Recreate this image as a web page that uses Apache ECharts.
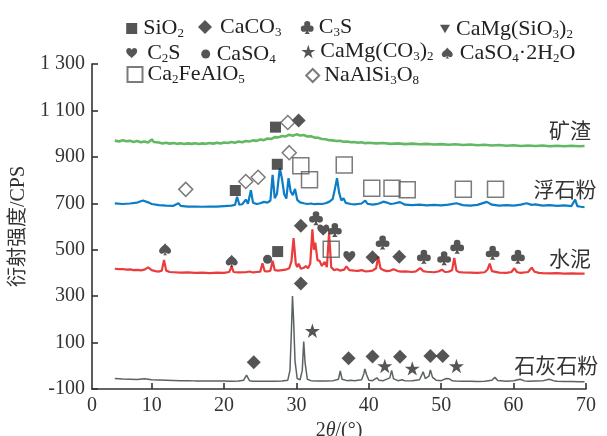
<!DOCTYPE html>
<html><head><meta charset="utf-8">
<script src="https://cdn.jsdelivr.net/npm/echarts@6/dist/echarts.min.js"></script>
<style>html,body{margin:0;padding:0;background:#fff}#c{width:607px;height:436px}</style>
</head><body><div id="c"></div>
<script>
// ---- data (2θ in degrees, intensity in CPS) ----
const traceNames = ['矿渣', '浮石粉', '水泥', '石灰石粉'];
const slagXRD = [[4.9,970],[5.5,966],[6,972],[6.5,967],[7,969],[7.5,964],[8,968],[8.5,963],[9,966],[9.5,962],[10,975],[10.3,964],[11,962],[11.5,958],[12,961],[12.5,957],[13,960],[13.5,956],[14,959],[14.5,955],[15,958],[15.5,956],[16,959],[16.5,955],[17,958],[17.5,956],[18,960],[18.5,957],[19,961],[19.5,958],[20,962],[20.5,960],[21,964],[21.5,961],[22,966],[22.5,963],[23,968],[23.5,966],[24,971],[24.5,969],[25,975],[25.5,972],[26,979],[26.5,977],[27,985],[27.5,984],[28,990],[28.5,988],[29,995],[29.5,991],[30,997],[30.5,992],[31,994],[31.5,988],[32,989],[32.5,983],[33,982],[33.5,977],[34,976],[34.5,972],[35,971],[35.5,968],[36,969],[36.5,965],[37,966],[37.5,963],[38,964],[38.5,961],[39,963],[39.5,959],[40,961],[41,958],[42,960],[43,956],[44,958],[45,955],[46,957],[47,954],[48,956],[49,953],[50,955],[51,952],[52,954],[53,951],[54,953],[55,950],[56,952],[57,949],[58,951],[59,948],[60,950],[61,947],[62,949],[63,947],[64,949],[65,946],[66,948],[67,946],[68,948],[69,946],[69.8,947]];
const pumiceXRD = [[4.9,700],[6,697],[7,699],[8,703],[8.8,712],[9.5,704],[10,697],[11,692],[12,690],[13,689],[13.7,700],[14,689],[15,686],[16,686],[17,685],[18,686],[19,686],[20,688],[21,690],[21.5,693],[21.8,728],[22.1,694],[22.5,696],[23.0,716],[23.3,698],[23.7,756],[24.0,702],[24.5,697],[25,700],[25.5,706],[26,703],[26.4,712],[26.7,822],[27.0,722],[27.3,740],[27.7,852],[28.0,805],[28.3,740],[28.6,720],[28.9,808],[29.2,750],[29.5,735],[29.8,762],[30.1,715],[30.5,704],[31,700],[31.5,697],[32,699],[32.5,696],[33,698],[33.5,697],[34,700],[34.5,706],[35,718],[35.3,760],[35.6,808],[35.9,745],[36.2,712],[36.5,722],[36.8,702],[37.5,697],[38,695],[38.5,697],[39,699],[39.5,712],[39.8,698],[40.5,694],[41,696],[41.5,700],[42,707],[42.5,703],[43,697],[43.5,699],[44.3,705],[45,694],[46,692],[47,694],[48,691],[49,693],[50,691],[51,694],[52.1,700],[53,692],[54,690],[55,693],[56.3,706],[57,694],[58,690],[59,692],[60,690],[61,694],[61.8,700],[62.5,693],[63,695],[64,690],[65,692],[66,689],[67,691],[68,688],[68.5,716],[68.8,688],[69.3,685],[69.8,683]];
const cementXRD = [[4.9,418],[5.5,416],[6,417],[6.5,414],[7,415],[7.5,412],[8,413],[8.5,411],[9,414],[9.5,424],[10,412],[10.5,408],[11,406],[11.4,410],[11.7,456],[12.0,410],[12.5,404],[13,403],[14,401],[15,402],[16,400],[17,401],[18,399],[19,401],[20,400],[20.7,404],[21.05,428],[21.3,404],[22,402],[23,403],[23.5,406],[24,402],[24.5,404],[25.0,406],[25.3,442],[25.6,408],[26,406],[26.4,410],[26.7,452],[27.0,412],[27.5,410],[28,412],[28.5,414],[29.0,420],[29.3,450],[29.6,550],[29.9,440],[30.1,425],[30.3,440],[30.6,418],[31,422],[31.3,430],[31.6,420],[31.9,440],[32.2,588],[32.4,500],[32.6,530],[32.9,455],[33.2,452],[33.5,430],[33.9,447],[34.2,425],[34.5,572],[34.8,425],[35.2,412],[35.6,416],[36,410],[36.6,414],[36.9,428],[37.3,412],[38,410],[38.5,409],[39,412],[39.5,407],[40,408],[40.5,410],[41.0,420],[41.3,470],[41.6,420],[42,412],[42.5,408],[43,410],[43.4,416],[44,408],[44.5,406],[45,407],[46,404],[46.5,407],[47.1,421],[47.5,408],[48,405],[49,403],[49.6,406],[50.1,414],[50.5,404],[51,405],[51.5,412],[51.8,465],[52.1,410],[52.5,403],[53,402],[54,401],[55,400],[56,403],[56.4,415],[56.7,440],[57.0,408],[58,401],[59,400],[59.7,404],[60.1,420],[60.5,403],[61,400],[62,404],[62.5,423],[62.9,405],[63.5,400],[64,399],[65,398],[66,399],[67,397],[68,398],[69,397],[69.8,397]];
const limestoneXRD = [[4.9,-55],[6,-57],[7,-58],[8,-59],[9,-56],[10,-60],[11,-61],[12,-62],[13,-63],[14,-64],[15,-64],[16,-65],[17,-65],[18,-66],[19,-66],[20,-66],[21,-67],[22,-66],[22.7,-62],[23.1,-40],[23.5,-64],[24,-67],[25,-67],[26,-67],[27,-67],[28,-66],[28.8,-62],[29.1,-20],[29.3,150],[29.45,300],[29.6,200],[29.8,20],[30.1,-55],[30.5,-60],[30.8,-20],[31.0,104],[31.2,10],[31.5,-58],[32,-64],[33,-66],[34,-66],[35,-65],[35.8,-58],[36.05,-22],[36.3,-58],[37,-64],[37.5,-62],[38,-64],[39,-60],[39.3,-35],[39.45,-14],[39.7,-40],[40,-62],[40.5,-64],[41.1,-52],[41.4,-62],[42,-64],[42.9,-52],[43.15,-20],[43.4,-55],[44,-64],[44.6,-60],[45,-65],[46,-64],[47,-60],[47.3,-40],[47.5,-26],[47.8,-55],[48.3,-45],[48.5,-18],[48.8,-50],[49.3,-62],[50,-64],[50.7,-55],[51.1,-56],[51.5,-64],[52,-66],[53,-67],[54,-67],[55,-68],[56,-67],[57,-62],[57.4,-50],[57.8,-63],[59,-67],[60,-64],[60.9,-58],[61.5,-65],[62,-67],[63,-66],[64,-65],[64.9,-58],[65.5,-64],[66,-67],[67,-68],[68,-68],[69,-69],[69.8,-69]];

// phase markers [2θ, y]
const mineralNames = ['SiO2','CaCO3','C3S','CaMg(SiO3)2','C2S','CaSO4','CaMg(CO3)2','CaSO4·2H2O','Ca2FeAlO5','NaAlSi3O8'];
const sio2Marks = [[27.1,1028],[21.55,755],[27.35,868],[27.4,492]];
const caco3Marks = [[30.3,1057],[30.6,603],[40.5,468],[44.2,470],[30.6,355],[24.1,15],[37.2,32],[40.5,40],[44.3,39],[48.5,42],[50.2,42]];
const c3sMarks = [[32.7,636],[35.3,585],[41.9,531],[47.6,470],[50.4,463],[52.2,513],[57.1,487],[60.6,470]];
const diopsideMarks = [];
const c2sMarks = [[33.7,585],[37.3,470]];
const caso4Marks = [[26.0,459]];
const dolomiteMarks = [[32.2,151],[42.2,-1],[46.0,-11],[52.1,-1]];
const gypsumMarks = [[11.85,502],[21.05,452]];
const c4afMarks = [[34.8,502],[30.6,862],[31.8,801],[36.6,865],[40.4,765],[43.2,765],[45.3,758],[53.05,760],[57.5,760]];
const albiteMarks = [[28.8,1048],[14.7,760],[23.0,794],[24.7,812],[29.0,918]];

const yTicks = [-100,100,300,500,700,900,1100,1300];
const xTicks = [10,20,30,40,50,60,70];

// ---- styles ----
const INK = '#2a2a2a', HOLLOW = '#5a5a5a';
const SERIF = "'Liberation Serif', 'DejaVu Serif', serif";
const SERIF_CJK = "'Liberation Serif', 'Noto Sans CJK SC', serif";
function circ(cx, cy, r){ return 'M'+(cx-r)+','+cy+' A'+r+','+r+' 0 1,1 '+(cx+r)+','+cy+' A'+r+','+r+' 0 1,1 '+(cx-r)+','+cy+' Z '; }
const SYM = {
  star: 'path://M50,2 L61.8,38.2 L99.5,38.2 L69,60.5 L80.6,96.6 L50,74.3 L19.4,96.6 L31,60.5 L0.5,38.2 L38.2,38.2 Z',
  heart: 'path://M50,95 C40,82 0,58 0,30 C0,12 12,2 26,2 C38,2 46,10 50,20 C54,10 62,2 74,2 C88,2 100,12 100,30 C100,58 60,82 50,95 Z',
  spade: 'path://M50,0 C58,18 100,40 100,62 C100,80 88,88 76,88 C66,88 58,83 54,76 C55,88 60,96 68,100 L32,100 C40,96 45,88 46,76 C42,83 34,88 24,88 C12,88 0,80 0,62 C0,40 42,18 50,0 Z',
  club: 'path://' + circ(50,26,23) + circ(25,60,23) + circ(75,60,23) + 'M35,42 L65,42 L65,66 L35,66 Z M45,55 L55,55 C55,80 60,92 70,100 L30,100 C40,92 45,80 45,55 Z',
  tri: 'path://M0,0 L100,0 L50,87 Z'
};
const mineralStyle = [
  {data: sio2Marks,     symbol: 'rect',    size: 11, hollow: false},
  {data: caco3Marks,    symbol: 'diamond', size: 14, hollow: false},
  {data: c3sMarks,      symbol: SYM.club,  size: 14, hollow: false},
  {data: diopsideMarks, symbol: SYM.tri,   size: 10, hollow: false},
  {data: c2sMarks,      symbol: SYM.heart, size: 12, hollow: false},
  {data: caso4Marks,    symbol: 'circle',  size: 9,  hollow: false},
  {data: dolomiteMarks, symbol: SYM.star,  size: 15, hollow: false},
  {data: gypsumMarks,   symbol: SYM.spade, size: 12, hollow: false},
  {data: c4afMarks,     symbol: 'rect',    size: 16, hollow: true},
  {data: albiteMarks,   symbol: 'diamond', size: 14, hollow: true}
];
// legend layout: [iconCenterX, rowCenterY, iconSize, extra text padding]
const legendLayout = [
  [131.7, 23, 11, 1], [205, 23, 14, 3], [307.3, 23, 13, 0], [445, 23, 10, 1],
  [131.7, 47.5, 11, 5], [205.7, 47.5, 9, 1.5], [308.3, 47.5, 14, 0], [447.3, 47.5, 11, 2],
  [134, 71, 15, 0], [311.7, 71, 13, 0]
];

function subFmt(name, pad){
  let out = '';
  for (let i = 0; i < name.length; i++) {
    const ch = name[i];
    if (/[0-9]/.test(ch) && i > 0 && /[A-Za-z)]/.test(name[i-1])) out += '{s|' + ch + '}';
    else out += '{n|' + ch + '}';
  }
  return (pad ? '{p|}' : '') + out;
}
function yFmt(v){
  const a = Math.abs(v), s = String(a);
  return (v < 0 ? '-' : '') + (a >= 1000 ? s.slice(0, -3) + ' ' + s.slice(-3) : s);
}

const lineColors = ['#63b863', '#0b7dc6', '#ea3c3c', '#5b6264'];
const lineWidths = [2.6, 2.2, 2.2, 1.5];
const traceData = [slagXRD, pumiceXRD, cementXRD, limestoneXRD];
const tagCoords = [[67.8, 1016], [67.1, 762], [67.8, 464], [65.9, 3]];

const series = [];
traceData.forEach((d, i) => {
  series.push({
    name: traceNames[i], type: 'line', data: d, showSymbol: false, z: 2,
    lineStyle: {color: lineColors[i], width: lineWidths[i]}, itemStyle: {color: lineColors[i]},
    markPoint: {
      symbol: 'rect', symbolSize: 1, itemStyle: {color: 'rgba(0,0,0,0)'}, silent: true,
      label: {show: true, position: 'inside', formatter: traceNames[i], fontFamily: 'Noto Sans CJK SC', fontSize: 21, color: '#333'},
      data: [{coord: tagCoords[i]}]
    }
  });
});
mineralStyle.forEach((m, i) => {
  series.push({
    name: mineralNames[i], type: 'scatter', data: m.data, symbol: m.symbol, symbolSize: m.size,
    symbolKeepAspect: true, z: 5,
    itemStyle: m.hollow ? {color: 'rgba(0,0,0,0)', borderColor: HOLLOW, borderWidth: 1.5}
                        : {color: INK, borderWidth: 0}
  });
});

const legends = legendLayout.map((L, i) => ({
  data: [mineralNames[i]], left: L[0] - L[2] / 2, top: L[1] - L[2] / 2, itemWidth: L[2], itemHeight: L[2],
  padding: 0, itemGap: 0, selectedMode: false,
  formatter: (n) => subFmt(n, L[3] > 0),
  textStyle: {
    color: '#222', fontFamily: SERIF, fontSize: 22,
    rich: {
      n: {fontFamily: SERIF, fontSize: 22, color: '#222', lineHeight: 24},
      s: {fontFamily: SERIF, fontSize: 13, color: '#222', lineHeight: 13, verticalAlign: 'bottom'},
      p: {width: L[3], lineHeight: 24}
    }
  }
}));

const chart = echarts.init(document.getElementById('c'), null, {renderer: 'canvas'});
chart.setOption({
  animation: false,
  backgroundColor: '#fff',
  grid: {left: 92, right: 21, top: 64, bottom: 47, containLabel: false, outerBoundsMode: 'none'},
  legend: legends,
  xAxis: {
    type: 'value', min: 1.75, max: 70,
    name: '2{i|θ}/(°)', nameLocation: 'middle', nameGap: 25,
    nameTextStyle: {fontFamily: SERIF, fontSize: 20, color: '#333',
      rich: {i: {fontFamily: SERIF, fontSize: 20, fontStyle: 'italic', color: '#333'}}},
    axisLine: {show: true, onZero: false, lineStyle: {color: '#333', width: 1.6}},
    axisTick: {show: true, inside: true, length: 6, customValues: xTicks, lineStyle: {color: '#333', width: 1.6}},
    axisLabel: {customValues: [1.75].concat(xTicks), formatter: (v) => (v < 5 ? '0' : String(v)),
      fontFamily: SERIF, fontSize: 20, color: '#333', margin: 7},
    splitLine: {show: false}
  },
  yAxis: {
    type: 'value', min: -100, max: 1300, interval: 200,
    name: '衍射强度/CPS', nameLocation: 'middle', nameGap: 41,
    nameTextStyle: {fontFamily: SERIF_CJK, fontSize: 20, color: '#333'},
    axisLine: {show: true, onZero: false, lineStyle: {color: '#333', width: 1.6}},
    axisTick: {show: true, inside: true, length: 6, lineStyle: {color: '#333', width: 1.6}},
    axisLabel: {formatter: yFmt, fontFamily: SERIF, fontSize: 20, color: '#333', margin: 7},
    splitLine: {show: false}
  },
  series: series
});
</script>
</body></html>
